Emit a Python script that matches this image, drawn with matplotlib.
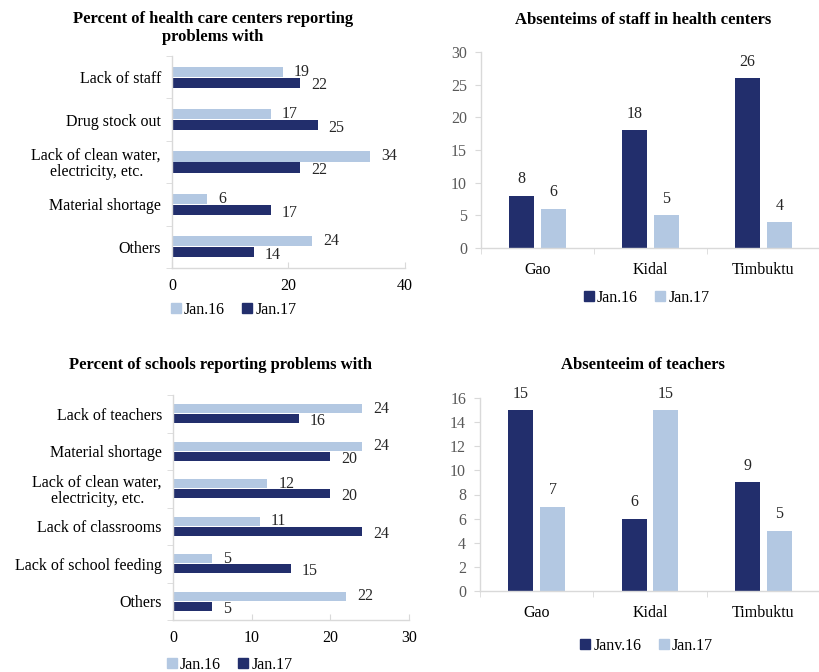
import numpy as np
import matplotlib.pyplot as plt
from matplotlib.lines import Line2D

plt.rcParams['font.family'] = ['Liberation Serif', 'DejaVu Serif']

DARK = '#222e6c'
LIGHT = '#b3c8e2'
SPINE = '#d9d9d9'
TICK_TXT = '#595959'

# health centers: share reporting problems (%)
health_cats = ['Lack of staff', 'Drug stock out', 'Lack of clean water,\nelectricity, etc.',
               'Material shortage', 'Others']
health_jan16 = [19, 17, 34, 6, 24]
health_jan17 = [22, 25, 22, 17, 14]

# absenteeism of staff in health centers
regions = ['Gao', 'Kidal', 'Timbuktu']
staff_jan16 = [8, 18, 26]
staff_jan17 = [6, 5, 4]

# schools: share reporting problems (%)
school_cats = ['Lack of teachers', 'Material shortage', 'Lack of clean water,\nelectricity, etc.',
               'Lack of classrooms', 'Lack of school feeding', 'Others']
school_jan16 = [24, 24, 12, 11, 5, 22]
school_jan17 = [16, 20, 20, 24, 15, 5]

# absenteeism of teachers
teach_jan16 = [15, 6, 9]
teach_jan17 = [7, 15, 5]

FS = 11.5
TFS = 12


def W(px):
    return px / 820


def H(px):
    return px / 672


def style_axes(ax):
    for s in ['top', 'right']:
        ax.spines[s].set_visible(False)
    for s in ['left', 'bottom']:
        ax.spines[s].set_color(SPINE)
        ax.spines[s].set_linewidth(1)


def hbar_panel(ax, cats, v16, v17, xmax, xstep):
    y = np.arange(len(cats))
    h = 0.24
    ax.barh(y - 0.13, v16, height=h, color=LIGHT)
    ax.barh(y + 0.13, v17, height=h, color=DARK)
    for yi, v in zip(y, v16):
        ax.annotate(str(v), (v, yi - 0.13), xytext=(8, 0), textcoords='offset points',
                    va='center', ha='left', fontsize=FS, color='#262626')
    for yi, v in zip(y, v17):
        ax.annotate(str(v), (v, yi + 0.13), xytext=(8, -2), textcoords='offset points',
                    va='center', ha='left', fontsize=FS, color='#262626')
    ax.set_xlim(0, xmax)
    ax.set_ylim(len(cats) - 0.5, -0.5)
    ax.set_yticks(y)
    ax.set_yticklabels(cats, fontsize=FS, linespacing=1.0, multialignment='center')
    ax.set_yticks(np.arange(len(cats) + 1) - 0.5, minor=True)
    ax.tick_params(axis='y', which='major', length=0, pad=8)
    ax.tick_params(axis='y', which='minor', length=4, color=SPINE)
    ax.set_xticks(np.arange(0, xmax + 1, xstep))
    ax.tick_params(axis='x', length=4, color=SPINE, direction='in', labelsize=FS, pad=7)
    style_axes(ax)


def vbar_panel(ax, v16, v17, ymax, ystep):
    x = np.arange(len(regions))
    w = 0.22
    ax.bar(x - 0.14, v16, width=w, color=DARK)
    ax.bar(x + 0.14, v17, width=w, color=LIGHT)
    for xi, v in zip(x, v16):
        ax.annotate(str(v), (xi - 0.14, v), xytext=(0, 6), textcoords='offset points',
                    ha='center', va='bottom', fontsize=FS, color='#262626')
    for xi, v in zip(x, v17):
        ax.annotate(str(v), (xi + 0.14, v), xytext=(0, 6), textcoords='offset points',
                    ha='center', va='bottom', fontsize=FS, color='#262626')
    ax.set_xlim(-0.5, 2.43)
    ax.set_ylim(0, ymax)
    ax.set_yticks(np.arange(0, ymax + 1, ystep))
    ax.tick_params(axis='y', length=4, color=SPINE, labelsize=FS, labelcolor=TICK_TXT, pad=6)
    ax.set_xticks(x)
    ax.set_xticklabels(regions, fontsize=FS)
    ax.set_xticks(np.arange(len(regions) + 1) - 0.5, minor=True)
    ax.tick_params(axis='x', which='major', length=0, pad=10)
    ax.tick_params(axis='x', which='minor', length=4, color=SPINE)
    style_axes(ax)


def square(color, label):
    return Line2D([], [], marker='s', linestyle='none', markersize=7,
                  markerfacecolor=color, markeredgecolor=color, label=label)


def panel_title(x, y, text):
    fig.text(W(x), 1 - H(y), text, ha='center', va='center', fontsize=TFS,
             fontweight='bold', linespacing=1.15)


fig = plt.figure(figsize=(8.2, 6.72), dpi=100)

ax1 = fig.add_axes([W(172), 1 - H(268), W(233), H(212)])
hbar_panel(ax1, health_cats, health_jan16, health_jan17, 40, 20)
panel_title(213, 28, 'Percent of health care centers reporting\nproblems with')

ax2 = fig.add_axes([W(481), 1 - H(248), W(339), H(196)])
vbar_panel(ax2, staff_jan16, staff_jan17, 30, 5)
panel_title(643, 20, 'Absenteims of staff in health centers')

ax3 = fig.add_axes([W(173), 1 - H(620), W(236), H(225)])
hbar_panel(ax3, school_cats, school_jan16, school_jan17, 30, 10)
panel_title(221, 365, 'Percent of schools reporting problems with')

ax4 = fig.add_axes([W(480), 1 - H(591), W(340), H(193)])
vbar_panel(ax4, teach_jan16, teach_jan17, 16, 2)
panel_title(643, 365, 'Absenteeim of teachers')

leg_kw = dict(loc='center', ncol=2, frameon=False, fontsize=FS, handletextpad=0.1,
              columnspacing=1.0, handlelength=0.8)
fig.legend(handles=[square(LIGHT, 'Jan.16'), square(DARK, 'Jan.17')],
           bbox_to_anchor=(W(233), 1 - H(310)), **leg_kw)
fig.legend(handles=[square(DARK, 'Jan.16'), square(LIGHT, 'Jan.17')],
           bbox_to_anchor=(W(646), 1 - H(298)), **leg_kw)
fig.legend(handles=[square(LIGHT, 'Jan.16'), square(DARK, 'Jan.17')],
           bbox_to_anchor=(W(229), 1 - H(665)), **leg_kw)
fig.legend(handles=[square(DARK, 'Janv.16'), square(LIGHT, 'Jan.17')],
           bbox_to_anchor=(W(646), 1 - H(646)), **leg_kw)

fig.savefig('out.png', dpi=100)
